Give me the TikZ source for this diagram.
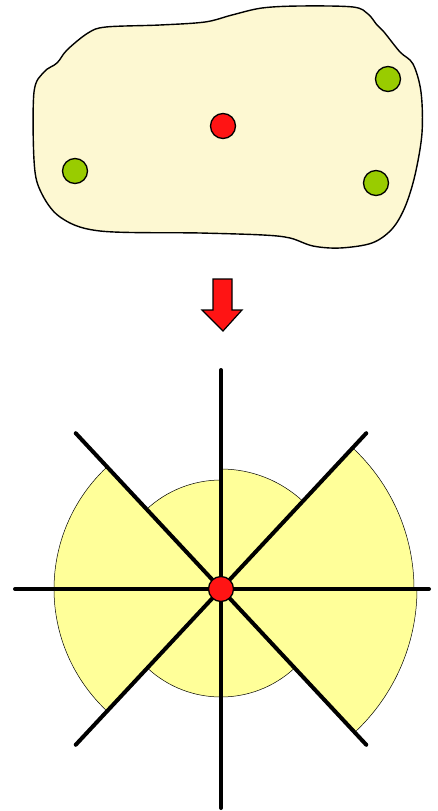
\documentclass[tikz,border=0pt]{standalone}
\usetikzlibrary{positioning,calc}
\definecolor{blobfill}{HTML}{FDF8D2}
\definecolor{sectfill}{HTML}{FFFF99}
\definecolor{leafgreen}{HTML}{99CC00}
\definecolor{hotred}{HTML}{FF1414}
\tikzset{
  dot/.style    = {draw, circle, inner sep=0pt, minimum size=25pt, line width=1.3pt},
  ray/.style    = {line width=4pt, line cap=round},
  sector/.style = {fill=sectfill, draw, line width=0.5pt},
  outline/.style= {draw, fill=blobfill, line width=1.4pt},
}
\begin{document}
\begin{tikzpicture}[x=1pt,y=-1pt]
\useasboundingbox (0,0) rectangle (438,811);
% the region with its points
\path[outline] plot[smooth cycle, tension=0.55] coordinates {
  (106,27) (160,25) (205,22) (232,15) (262,8) (300,6) (353,7) (368,14)
  (377,25) (384,32) (400,52) (413,64) (421,92) (422,133) (415,175)
  (405,207) (392,229) (372,243) (340,248) (313,246) (290,238) (263,235)
  (200,233) (100,231) (60,217) (40,190) (34,160) (34,92) (44,72)
  (57,63) (67,50) (88,33)};
\node[dot, fill=hotred] (src) at (223,126) {};
\node[dot, fill=leafgreen] (g1) at (388,79) {};
\node[dot, fill=leafgreen] (g2) at (75,171) {};
\node[dot, fill=leafgreen] (g3) at (376,183) {};
% arrow
\draw[fill=hotred, line width=1.2pt, line join=miter]
  (213,279) -- (232,279) -- (232,310) -- (242,310) -- (223,331)
  -- (202,310) -- (213,310) -- cycle;
% sectors around the point
\begin{scope}[shift={(221,589)}, yscale=-1]
  \path[sector] (0,0) -- (0:193) arc[start angle=0, end angle=47, radius=193] -- cycle;
  \path[sector] (0,0) -- (-47:196) arc[start angle=-47, end angle=0, radius=196] -- cycle;
  \path[sector] (0,0) -- (47:120) arc[start angle=47, end angle=90, radius=120] -- cycle;
  \path[sector] (0,0) -- (90:109) arc[start angle=90, end angle=133, radius=109] -- cycle;
  \path[sector] (0,0) -- (133:167) arc[start angle=133, end angle=227, radius=167] -- cycle;
  \path[sector] (0,0) -- (227:108) arc[start angle=227, end angle=313, radius=108] -- cycle;
  \coordinate (n) at (90:219);  \coordinate (s) at (270:219);
  \coordinate (w) at (180:206); \coordinate (e) at (0:208);
  \coordinate (ne) at (47:213); \coordinate (sw) at (227:213);
  \coordinate (nw) at (133:213); \coordinate (se) at (313:213);
  \draw[ray] (n) -- (s);
  \draw[ray] (w) -- (e);
  \draw[ray] (ne) -- (sw);
  \draw[ray] (nw) -- (se);
  \node[dot, fill=hotred] (ctr) at (0,0) {};
\end{scope}
\end{tikzpicture}
\end{document}
